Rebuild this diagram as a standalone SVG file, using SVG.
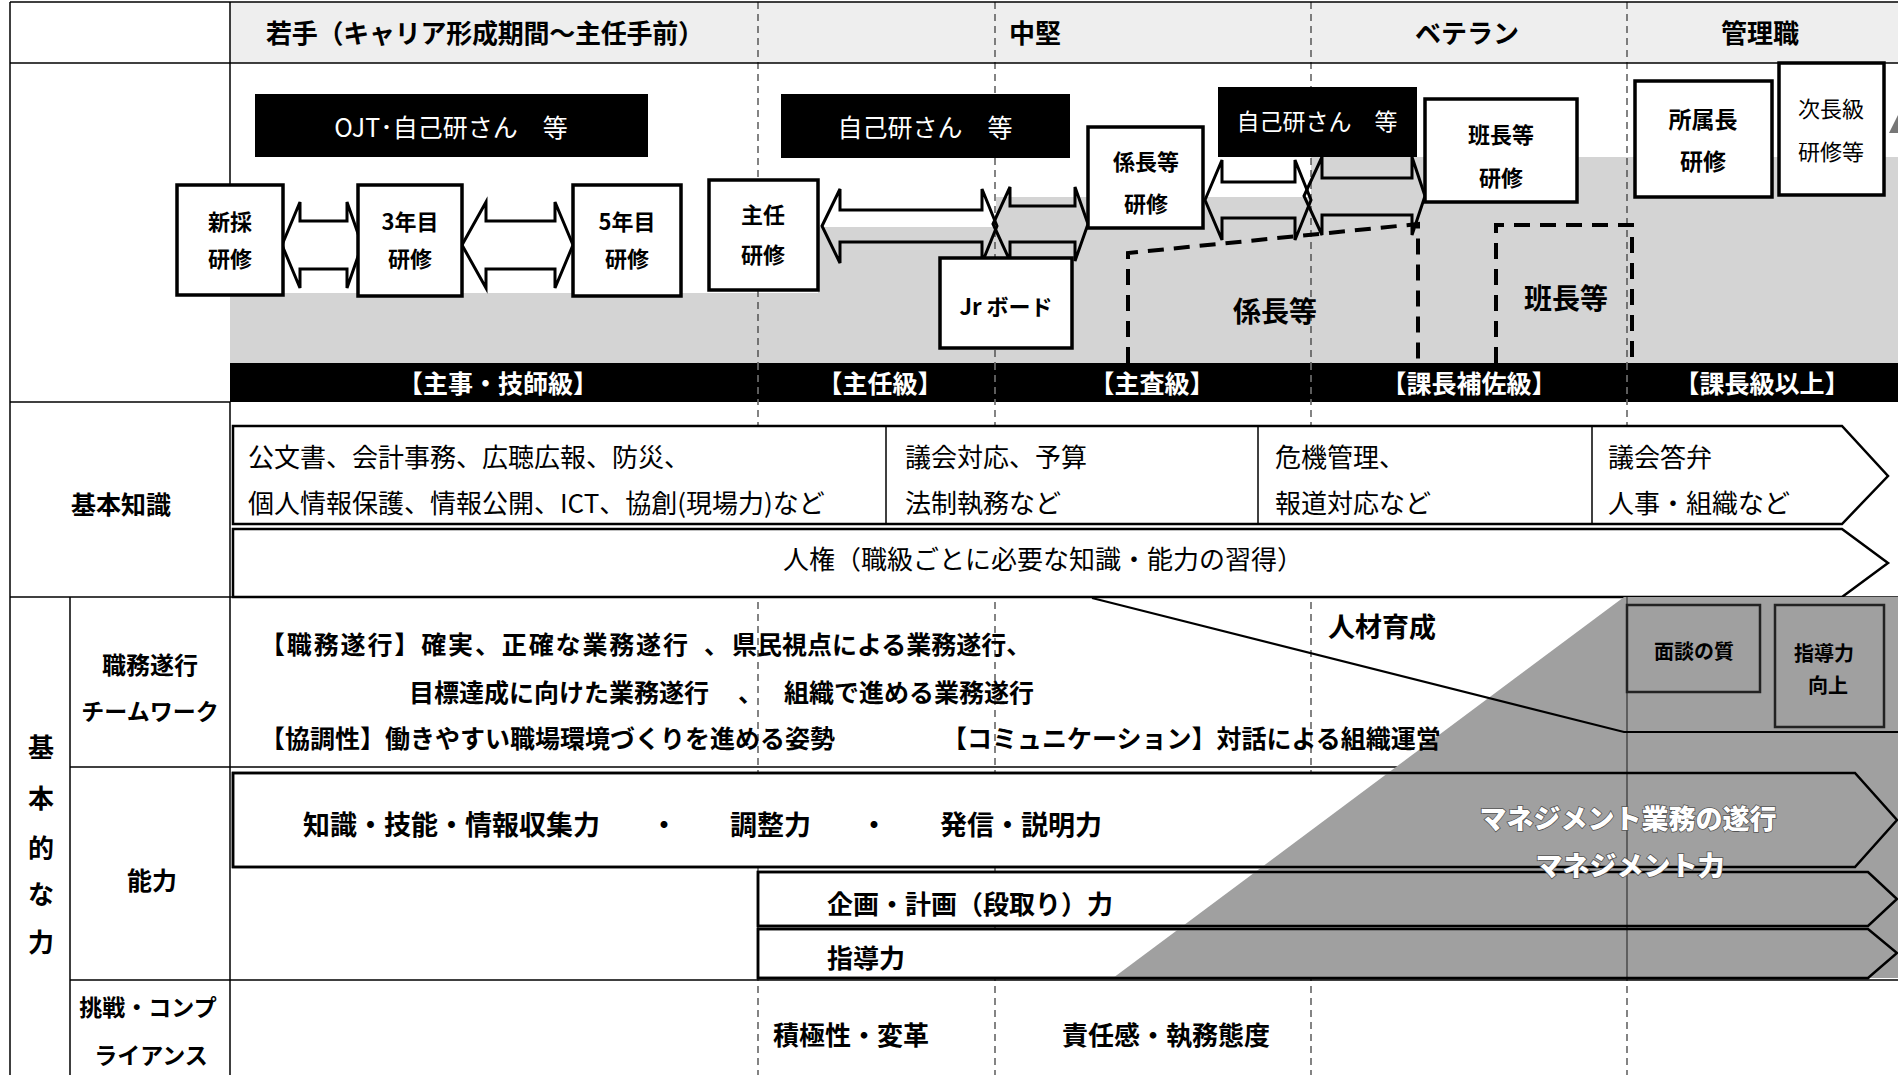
<svg xmlns="http://www.w3.org/2000/svg" width="1898" height="1075" viewBox="0 0 1898 1075">
<style>
text{font-family:"Noto Sans CJK JP","Noto Sans CJK SC",sans-serif;fill:#000;dominant-baseline:central}
.b{font-weight:bold}
.w{fill:#fff}
.c{text-anchor:middle}
.box{fill:#fff;stroke:#000;stroke-width:3.5}
.blk{fill:#000}
.arr{fill:none;stroke:#000;stroke-width:3;stroke-linejoin:miter}
.band{fill:#fff;stroke:#000;stroke-width:2.5}
.bandO{fill:none;stroke:#000;stroke-width:2.5}
.grid{stroke:#000;stroke-width:1.5;fill:none}
.vd{stroke:#333;stroke-width:1.2;stroke-dasharray:7 5}
.dbox{fill:none;stroke:#000;stroke-width:4;stroke-dasharray:16 10}
.mg{font-weight:900;fill:#fff;stroke:#555;stroke-width:1.6;paint-order:stroke}
</style>
<rect width="1898" height="1075" fill="#fff"/>
<!-- header background -->
<rect x="230" y="2" width="1668" height="61" fill="#eeeeee"/>
<!-- training gray staircase -->
<path d="M230,293 H818 V227 H996 V197 H1311 V157 H1898 V363 H230 Z" fill="#d4d4d4"/>
<!-- vertical dashed period lines -->
<g id="period-lines">
<line class="vd" x1="758" y1="2" x2="758" y2="1075"/>
<line class="vd" x1="995" y1="2" x2="995" y2="1075"/>
<line class="vd" x1="1311" y1="2" x2="1311" y2="1075"/>
<line class="vd" x1="1627" y1="2" x2="1627" y2="1075"/>
</g>
<!-- black grade band -->
<g id="grade-band">
<rect x="230" y="363" width="1668" height="39" fill="#000"/>
<g stroke="#999" stroke-width="1.2" stroke-dasharray="7 5">
<line x1="758" y1="363" x2="758" y2="402"/><line x1="995" y1="363" x2="995" y2="402"/>
<line x1="1311" y1="363" x2="1311" y2="402"/><line x1="1627" y1="363" x2="1627" y2="402"/>
</g>
<text class="b w c" x="498" y="382" font-size="25">【主事・技師級】</text>
<text class="b w c" x="880" y="382" font-size="25">【主任級】</text>
<text class="b w c" x="1152" y="382" font-size="25">【主査級】</text>
<text class="b w c" x="1469" y="382" font-size="25">【課長補佐級】</text>
<text class="b w c" x="1762" y="382" font-size="25">【課長級以上】</text>
</g>
<!-- grid -->
<g id="grid" class="grid">
<line x1="10" y1="2" x2="1898" y2="2"/>
<line x1="10" y1="63" x2="1898" y2="63"/>
<line x1="10" y1="2" x2="10" y2="1075"/>
<line x1="230" y1="2" x2="230" y2="185"/>
<line x1="10" y1="402" x2="230" y2="402"/>
<line x1="230" y1="402" x2="230" y2="1075"/>
<line x1="10" y1="597" x2="1898" y2="597"/>
<line x1="70" y1="597" x2="70" y2="1075"/>
<line x1="70" y1="767" x2="1898" y2="767"/>
<line x1="70" y1="980" x2="1898" y2="980"/>
</g>
<!-- header texts -->
<g id="header">
<text class="b c" x="485" y="31" font-size="26" textLength="438">若手（キャリア形成期間～主任手前）</text>
<text class="b c" x="1035" y="31" font-size="26">中堅</text>
<text class="b c" x="1467" y="31" font-size="26">ベテラン</text>
<text class="b c" x="1760" y="31" font-size="26">管理職</text>
</g>
<!-- basic knowledge bands -->
<g id="knowledge">
<path class="band" d="M233,426 H1842 L1888,476 L1842,524 H233 Z"/>
<line class="grid" x1="886" y1="426" x2="886" y2="524" stroke-width="2.5"/>
<line class="grid" x1="1258" y1="426" x2="1258" y2="524" stroke-width="2.5"/>
<line class="grid" x1="1592" y1="426" x2="1592" y2="524" stroke-width="2.5"/>
<path class="band" d="M233,529 H1842 L1888,563 L1842,597 H233 Z"/>
<text x="248" y="455" font-size="26">公文書、会計事務、広聴広報、防災、</text>
<text x="248" y="501" font-size="26">個人情報保護、情報公開、ICT、協創(現場力)など</text>
<text x="905" y="455" font-size="26">議会対応、予算</text>
<text x="905" y="501" font-size="26">法制執務など</text>
<text x="1275" y="455" font-size="26">危機管理、</text>
<text x="1275" y="501" font-size="26">報道対応など</text>
<text x="1608" y="455" font-size="26">議会答弁</text>
<text x="1608" y="501" font-size="26">人事・組織など</text>
<text class="c" x="1043" y="557" font-size="26">人権（職級ごとに必要な知識・能力の習得）</text>
</g>
<!-- ability bands fill -->
<g id="ability-fill">
<path class="band" d="M233,773 H1855 L1897,820 L1855,867 H233 Z"/>
<path class="band" d="M758,872 H1868 L1897,899 L1868,926 H758 Z"/>
<path class="band" d="M758,929 H1868 L1897,953 L1868,978 H758 Z"/>
</g>
<!-- management gray triangle -->
<g id="management">
<polygon points="1624,597 1898,597 1898,978 1113,978" fill="#a0a0a0"/>
<line x1="1627" y1="597" x2="1627" y2="978" stroke="#333" stroke-width="1.2"/>
<path class="bandO" d="M233,773 H1855 L1897,820 L1855,867 H233 Z"/>
<path class="bandO" d="M758,872 H1868 L1897,899 L1868,926 H758 Z"/>
<path class="bandO" d="M758,929 H1868 L1897,953 L1868,978 H758 Z"/>
<polyline points="1092,598 1624,732 1898,732" fill="none" stroke="#000" stroke-width="2.2"/>
<g id="mendan"><rect x="1627" y="605" width="133" height="87" fill="#a0a0a0" stroke="#222" stroke-width="2.5"/>
<text class="b c" x="1694" y="650" font-size="20">面談の質</text></g>
<g id="shidou"><rect x="1775" y="605" width="109" height="122" fill="#a0a0a0" stroke="#222" stroke-width="2.5"/>
<text class="b c" x="1824" y="652" font-size="20">指導力</text>
<text class="b c" x="1828" y="684" font-size="20">向上</text></g>
<text class="mg c" x="1628" y="817" font-size="27">マネジメント業務の遂行</text>
<text class="mg c" x="1630" y="864" font-size="27">マネジメント力</text>
</g>
<!-- training row: black boxes -->
<g id="ojt"><rect class="blk" x="255" y="94" width="393" height="63"/>
<text class="w c" x="451" y="126" font-size="25">OJT･自己研さん　等</text></g>
<g id="jiko2"><rect class="blk" x="781" y="94" width="289" height="64"/>
<text class="w c" x="925" y="126" font-size="25">自己研さん　等</text></g>
<g id="jiko3"><rect class="blk" x="1218" y="87" width="199" height="70"/>
<text class="w c" x="1317" y="120" font-size="23">自己研さん　等</text></g>
<!-- connectors: double arrows and dashed boundaries -->
<g id="connectors">
<path class="arr" d="M282,245 L300,202 L300,221 L347,221 L347,202 L362,245 L347,288 L347,269 L300,269 L300,288 Z"/>
<path class="arr" d="M462,245 L486,202 L486,221 L555,221 L555,202 L573,245 L555,288 L555,269 L486,269 L486,288 Z"/>
<path class="arr" d="M822,226 L840,189 L840,210 L982,210 L982,189 L997,226 L982,263 L982,242 L840,242 L840,263 Z"/>
<path class="arr" d="M993,224 L1010,187 L1010,206 L1075,206 L1075,187 L1088,224 L1075,261 L1075,242 L1010,242 L1010,261 Z"/>
<path class="arr" d="M1205,200 L1222,160 L1222,182 L1295,182 L1295,160 L1311,200 L1295,240 L1295,218 L1222,218 L1222,240 Z"/>
<path class="arr" d="M1304,196 L1322,157 L1322,178 L1412,178 L1412,157 L1425,196 L1412,235 L1412,215 L1322,215 L1322,235 Z"/>
<path class="dbox" d="M1128,363 V253 L1418,224 V363"/>
<path class="dbox" d="M1496,363 V225 H1632 V363"/>
</g>
<!-- training boxes -->
<g id="shinsai"><rect class="box" x="177" y="185" width="106" height="110"/>
<text class="b c" x="230" y="220" font-size="22">新採</text><text class="b c" x="230" y="257" font-size="22">研修</text></g>
<g id="y3"><rect class="box" x="358" y="185" width="104" height="111"/>
<text class="b c" x="410" y="220" font-size="22">3年目</text><text class="b c" x="410" y="257" font-size="22">研修</text></g>
<g id="y5"><rect class="box" x="573" y="185" width="108" height="111"/>
<text class="b c" x="627" y="220" font-size="22">5年目</text><text class="b c" x="627" y="257" font-size="22">研修</text></g>
<g id="shunin"><rect class="box" x="709" y="180" width="109" height="110"/>
<text class="b c" x="763" y="213" font-size="22">主任</text><text class="b c" x="763" y="253" font-size="22">研修</text></g>
<g id="jr"><rect class="box" x="940" y="258" width="132" height="90"/>
<text class="b c" x="1006" y="305" font-size="22">Jr ボード</text></g>
<g id="kakaricho"><rect class="box" x="1088" y="127" width="115" height="101"/>
<text class="b c" x="1146" y="160" font-size="22">係長等</text><text class="b c" x="1146" y="202" font-size="22">研修</text></g>
<g id="hancho"><rect class="box" x="1425" y="99" width="152" height="103"/>
<text class="b c" x="1501" y="133" font-size="22">班長等</text><text class="b c" x="1501" y="176" font-size="22">研修</text></g>
<g id="shozokucho"><rect class="box" x="1635" y="81" width="137" height="116"/>
<text class="b c" x="1703" y="118" font-size="23">所属長</text><text class="b c" x="1703" y="160" font-size="23">研修</text></g>
<g id="jichokyu"><rect class="box" x="1779" y="63" width="105" height="132"/>
<text class="c" x="1831" y="107" font-size="22">次長級</text><text class="c" x="1831" y="150" font-size="22">研修等</text></g>
<polygon points="1889,133 1898,115 1898,133" fill="#777"/>
<text class="b c" x="1275" y="310" font-size="28">係長等</text>
<text class="b c" x="1566" y="297" font-size="28">班長等</text>
<!-- left labels -->
<g id="left-labels">
<text class="b c" x="121" y="503" font-size="25">基本知識</text>
<text class="b c" x="41" y="745" font-size="26">基</text>
<text class="b c" x="41" y="796" font-size="26">本</text>
<text class="b c" x="41" y="846" font-size="26">的</text>
<text class="b c" x="41" y="892" font-size="26">な</text>
<text class="b c" x="41" y="940" font-size="26">力</text>
<text class="b c" x="150" y="663" font-size="24">職務遂行</text>
<text class="b c" x="150" y="710" font-size="23">チームワーク</text>
<text class="b c" x="152" y="879" font-size="25">能力</text>
<text class="b c" x="148" y="1006" font-size="23">挑戦・コンプ</text>
<text class="b c" x="151" y="1054" font-size="23">ライアンス</text>
</g>
<!-- duty row texts -->
<g id="duty">
<text class="b" x="260" y="643" font-size="25" textLength="428">【職務遂行】確実、正確な業務遂行</text>
<text class="b" x="704" y="643" font-size="25">、</text>
<text class="b" x="732" y="643" font-size="25">県民視点による業務遂行、</text>
<text class="b" x="409" y="691" font-size="25">目標達成に向けた業務遂行</text>
<text class="b" x="738" y="691" font-size="25">、</text>
<text class="b" x="784" y="691" font-size="25">組織で進める業務遂行</text>
<text class="b" x="260" y="737" font-size="25">【協調性】働きやすい職場環境づくりを進める姿勢</text>
<text class="b" x="942" y="737" font-size="25">【コミュニケーション】対話による組織運営</text>
<text class="b" x="1328" y="625" font-size="27">人材育成</text>
</g>
<!-- ability texts -->
<g id="ability">
<text class="b" x="303" y="823" font-size="27">知識・技能・情報収集力</text>
<text class="b c" x="664" y="823" font-size="27">・</text>
<text class="b" x="730" y="823" font-size="27">調整力</text>
<text class="b c" x="874" y="823" font-size="27">・</text>
<text class="b" x="940" y="823" font-size="27">発信・説明力</text>
<text class="b" x="827" y="902" font-size="26">企画・計画（段取り）力</text>
<text class="b" x="827" y="956" font-size="26">指導力</text>
</g>
<!-- challenge row -->
<g id="challenge">
<text class="b" x="773" y="1033" font-size="26">積極性・変革</text>
<text class="b" x="1062" y="1033" font-size="26">責任感・執務態度</text>
</g>
</svg>
